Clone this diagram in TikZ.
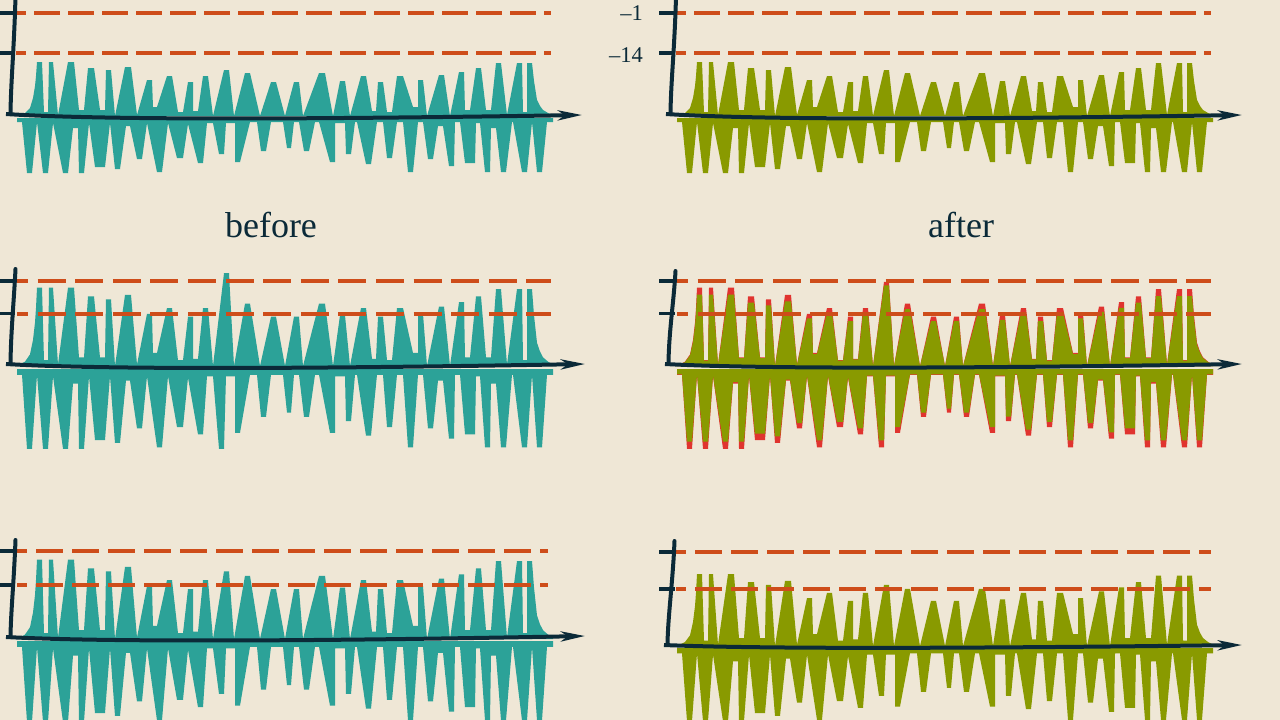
\documentclass[tikz,border=0pt]{standalone}
\usepackage{fontspec}
\setmainfont{Liberation Serif}
\usetikzlibrary{arrows.meta}
\definecolor{bgc}{HTML}{EFE7D6}
\definecolor{tealc}{HTML}{2CA298}
\definecolor{olivec}{HTML}{899A00}
\definecolor{redc}{HTML}{E0342F}
\definecolor{dashc}{HTML}{CE4D1A}
\definecolor{navyc}{HTML}{0B2A38}

\def\spU{46}\def\spD{36}
\def\uplist{17/0,25/3,30/8,33/18,35/30,36/40,37/54,42/54,44/4,48/4,49/54,53/54,58/1,68/54,74/54,79/6,84/6,88/48,94/48,100/6,105/6,106/46,111/46,115/0,125/49,131/49,137/1,147/36,152/36,153/9,157/9,167/40,172/40,178/4,183/4,188/34,193/34,193/5,198/5,203/40,208/40,213/0,224/\spU,229/\spU,234/0,245/43,250/43,260/0,271/34,276/34,285/0,294/34,299/34,303/0,319/43,325/43,333/0,340/35,345/35,350/0,361/40,366/40,372/5,376/5,378/34,383/34,387/4,392/4,397/40,403/40,413/9,418/9,418/36,423/36,427/0,439/41,444/41,450/0,459/44,464/44,465/6,470/6,476/48,481/48,486/6,491/6,496/53,501/53,507/1,517/53,522/53,523/4,527/4,527/53,532/53,534/35,537/16,540/10,543/6,548/3,553/1,553/0}
\def\lolist{17/4,22/4,27/55,32/55,37/4,43/55,48/55,53/5,63/55,68/55,73/10,78/10,79/55,84/55,89/5,95/49,105/49,110/5,115/51,120/51,126/8,130/8,137/41,142/41,147/5,157/54,162/54,168/5,177/40,183/40,188/6,198/45,203/45,207/5,213/5,219/\spD,224/\spD,226/5,235/5,235/44,240/44,250/4,257/4,261/33,266/33,271/4,283/4,287/30,291/30,294/4,299/4,304/33,309/33,315/4,319/4,330/44,335/44,335/5,345/5,346/36,351/36,355/4,357/4,366/46,371/46,377/4,383/4,387/40,392/40,397/4,403/4,408/54,413/54,418/4,423/4,428/41,433/41,438/8,443/8,449/48,454/48,455/4,460/4,465/45,475/45,476/5,480/5,485/54,490/54,491/10,496/10,501/54,506/54,512/4,513/4,522/54,527/54,532/4,537/54,542/54,547/4,553/4,553/0}

% #1 x offset, #2 upper base, #3 lower base, #4 scale, #5 colour
\newcommand\wavefill[5]{%
  \fill[#5] (#1+17,#2) \foreach \x/\h in \uplist { -- ({#1+\x},{#2-#4*\h}) } -- cycle;
  \fill[#5] (#1+17,#3) \foreach \x/\h in \lolist { -- ({#1+\x},{#3+#4*\h}) } -- cycle;
}

\begin{document}
\begin{tikzpicture}[x=1pt,y=-1pt,
  axisline/.style={line width=4pt, draw=navyc, line cap=round},
  axisarrow/.style={axisline, line cap=butt, -{Stealth[length=24pt,width=10pt,inset=7pt]}},
  tickline/.style={line width=3.5pt, draw=navyc},
  lvltop/.style={line width=4pt, draw=dashc, dash pattern=on 26pt off 8pt, dash phase=16pt},
  lvlmid/.style={line width=4pt, draw=dashc, dash pattern=on 28pt off 9.6pt, dash phase=17pt},
  lvlbot/.style={line width=4pt, draw=dashc, dash pattern=on 27pt off 9pt, dash phase=17pt},
  captxt/.style={text=navyc, font=\fontsize{36}{42}\selectfont, inner sep=0pt, anchor=base},
  ylab/.style={text=navyc, font=\fontsize{22.5}{26}\selectfont, inner sep=0pt, anchor=base east}]
\useasboundingbox (0,0) rectangle (1280,720);
\fill[bgc] (0,0) rectangle (1280,720);

% ---------- waveforms ----------
\wavefill{0}{116}{118}{1}{tealc}
\wavefill{660}{116}{118}{1}{olivec}
{\def\spU{64}\def\spD{55}
 \wavefill{0}{366}{369}{1.45}{tealc}}
{\def\spU{58}\def\spD{54}
 \wavefill{660}{366}{369}{1.45}{redc}
 \def\spU{61}
 \wavefill{660}{366}{369}{1.32}{olivec}}
\wavefill{0}{639}{641}{1.47}{tealc}
\wavefill{660}{646}{648}{1.33}{olivec}

% ---------- level lines ----------
\draw[lvltop] (16,13) -- (551,13);
\draw[lvltop] (16,53) -- (551,53);
\draw[lvltop] (676,13) -- (1211,13);
\draw[lvltop] (676,53) -- (1211,53);
\draw[lvlmid] (17,281) -- (551,281);
\draw[lvlmid] (17,313.5) -- (551,313.5);
\draw[lvlmid] (677,281) -- (1211,281);
\draw[lvlmid] (677,313.5) -- (1211,313.5);
\draw[lvlbot] (17,551) -- (548,551);
\draw[lvlbot] (17,585) -- (548,585);
\draw[lvlbot] (676,552) -- (1211,552);
\draw[lvlbot] (676,589) -- (1211,589);

% ---------- axes ----------
% top left
\draw[tickline] (0,13) -- (16,13);
\draw[tickline] (0,53) -- (15,53);
\draw[axisline] (15.5,-3) .. controls (14,50) and (11,80) .. (10.5,113);
\draw[axisarrow] (6,114) .. controls (100,120) and (300,119.5) .. (582,115);
% top right
\draw[tickline] (659,13) -- (676,13);
\draw[tickline] (659,53) -- (675,53);
\draw[axisline] (676,-3) .. controls (674.5,50) and (671,80) .. (670.5,113);
\draw[axisarrow] (666,114) .. controls (760,120) and (960,119.5) .. (1242,115);
% middle left
\draw[tickline] (0,281) -- (16,281);
\draw[tickline] (0,313.5) -- (15,313.5);
\draw[axisline] (15.5,269) .. controls (14,300) and (11,330) .. (10.5,363);
\draw[axisarrow] (6,364) .. controls (100,369.5) and (300,369) .. (585,364);
% middle right
\draw[tickline] (659,281) -- (676,281);
\draw[tickline] (659,313.5) -- (675,313.5);
\draw[axisline] (675.5,271) .. controls (674,300) and (669,330) .. (668.5,363);
\draw[axisarrow] (665,364) .. controls (760,369) and (960,368.5) .. (1242,364);
% bottom left
\draw[tickline] (0,551) -- (16,551);
\draw[tickline] (0,585) -- (15,585);
\draw[axisline] (15.5,540) .. controls (14,580) and (11,610) .. (10.5,636);
\draw[axisarrow] (6,637) .. controls (100,642) and (300,641.5) .. (585,636);
% bottom right
\draw[tickline] (659,552) -- (676,552);
\draw[tickline] (659,589) -- (675,589);
\draw[axisline] (674.5,541) .. controls (673,580) and (668,615) .. (667.5,644);
\draw[axisarrow] (664,645) .. controls (760,649) and (960,648.5) .. (1242,645);

% ---------- labels ----------
\node[ylab] (lone) at (643,20) {–1};
\node[ylab] (lfourteen) at (643,62) {–14};
\node[captxt] (before) at (271,237) {before};
\node[captxt] (after) at (961,237) {after};
\end{tikzpicture}
\end{document}
